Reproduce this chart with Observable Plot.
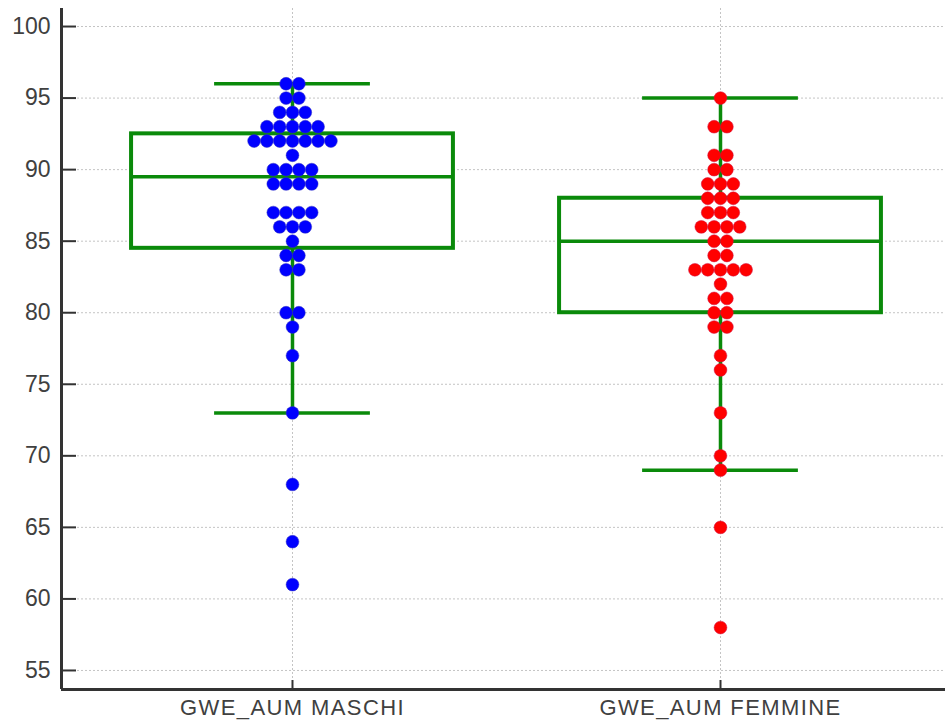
<!DOCTYPE html>
<html>
<head>
<meta charset="utf-8">
<script src="https://cdn.jsdelivr.net/npm/d3@7"></script>
<script src="https://cdn.jsdelivr.net/npm/@observablehq/plot@0.6"></script>
<style>
  html, body { margin: 0; padding: 0; background: #fff; }
  #chart svg g[aria-label="x-axis tick label"] text { letter-spacing: 1.4px; }
</style>
</head>
<body>
<div id="chart"></div>
<script>
const categories = ["GWE_AUM MASCHI", "GWE_AUM FEMMINE"];
const maschiValues = [96, 96, 95, 95, 94, 94, 94, 93, 93, 93, 93, 93,
  92, 92, 92, 92, 92, 92, 92, 91, 90, 90, 90, 90, 89, 89, 89, 89,
  87, 87, 87, 87, 86, 86, 86, 85, 84, 84, 83, 83, 80, 80, 79, 77, 73, 68, 64, 61];
const femmineValues = [95, 93, 93, 91, 91, 90, 90, 89, 89, 89, 88, 88, 88,
  87, 87, 87, 86, 86, 86, 86, 85, 85, 84, 84, 83, 83, 83, 83, 83, 82,
  81, 81, 80, 80, 79, 79, 77, 76, 73, 70, 69, 65, 58];
const dotColors = ["#0000ff", "#ff0000"];
const q1 = [84.5, 80];
const median = [89.5, 85];
const q3 = [92.5, 88];
const whiskerLow = [73, 69];
const whiskerHigh = [96, 95];
const yTicks = [55, 60, 65, 70, 75, 80, 85, 90, 95, 100];

const xDomain = [-0.5397, 1.5257];
const yDomain = [53.67, 101.26];
const step = 0.0299;    // horizontal spacing of stacked dots (x units)
const boxHalf = 0.376;
const capHalf = 0.182;

function swarm(values, idx) {
  const counts = d3.rollup(values, v => v.length, v => v);
  const out = [];
  for (const [v, n] of counts) {
    for (let k = 0; k < n; k++) out.push({x: idx + (k - (n - 1) / 2) * step, v, idx});
  }
  return out;
}
const dotsM = swarm(maschiValues, 0);
const dotsF = swarm(femmineValues, 1);

const boxes = categories.map((c, i) => ({
  i, q1: q1[i], med: median[i], q3: q3[i], lo: whiskerLow[i], hi: whiskerHigh[i]
}));

const green = "#0a8a0a";
const axisColor = "#333";

const chart = Plot.plot({
  width: 945,
  height: 728,
  marginTop: 8,
  marginBottom: 39,
  marginLeft: 61,
  marginRight: 0,
  style: {fontFamily: "'Liberation Sans', Arial, sans-serif", color: "#404040", background: "#fff"},
  x: {type: "linear", domain: xDomain},
  y: {domain: yDomain},
  marks: [
    // grid
    Plot.ruleY(yTicks, {stroke: "#c4c4c4", strokeDasharray: "2,2", strokeWidth: 1}),
    Plot.ruleX([0, 1], {stroke: "#c4c4c4", strokeDasharray: "2,2", strokeWidth: 1}),
    // whiskers
    Plot.ruleX(boxes, {x: "i", y1: "lo", y2: "q1", stroke: green, strokeWidth: 3.5}),
    Plot.ruleX(boxes, {x: "i", y1: "q3", y2: "hi", stroke: green, strokeWidth: 3.5}),
    Plot.ruleY(boxes, {y: "lo", x1: d => d.i - capHalf, x2: d => d.i + capHalf, stroke: green, strokeWidth: 3.5}),
    Plot.ruleY(boxes, {y: "hi", x1: d => d.i - capHalf, x2: d => d.i + capHalf, stroke: green, strokeWidth: 3.5}),
    // box
    Plot.rect(boxes, {x1: d => d.i - boxHalf, x2: d => d.i + boxHalf, y1: "q1", y2: "q3", fill: "white", stroke: green, strokeWidth: 4}),
    Plot.ruleY(boxes, {y: "med", x1: d => d.i - boxHalf, x2: d => d.i + boxHalf, stroke: green, strokeWidth: 3.5}),
    // dots
    Plot.dot(dotsM, {x: "x", y: "v", r: 6.4, fill: dotColors[0], stroke: "#3030c0", strokeWidth: 0.5}),
    Plot.dot(dotsF, {x: "x", y: "v", r: 6.4, fill: dotColors[1], stroke: "#d01040", strokeWidth: 0.5}),
    // axis lines and inward ticks
    Plot.ruleY(yTicks, {x1: xDomain[0], x2: xDomain[0] + 15 / 428, stroke: axisColor, strokeWidth: 2}),
    Plot.ruleX([0, 1], {y1: yDomain[0], y2: yDomain[0] + 9 / 14.31, stroke: axisColor, strokeWidth: 2}),
    Plot.ruleX([xDomain[0]], {stroke: axisColor, strokeWidth: 3}),
    Plot.ruleY([yDomain[0]], {stroke: axisColor, strokeWidth: 3}),
    Plot.axisY({ticks: yTicks, tickSize: 0, tickPadding: 11, fontSize: 23, tickFormat: d => String(d)}),
    Plot.axisX({ticks: [0, 1], tickSize: 0, tickPadding: 10, fontSize: 22, tickFormat: i => categories[i]})
  ]
});
document.getElementById("chart").appendChild(chart);
</script>
</body>
</html>
